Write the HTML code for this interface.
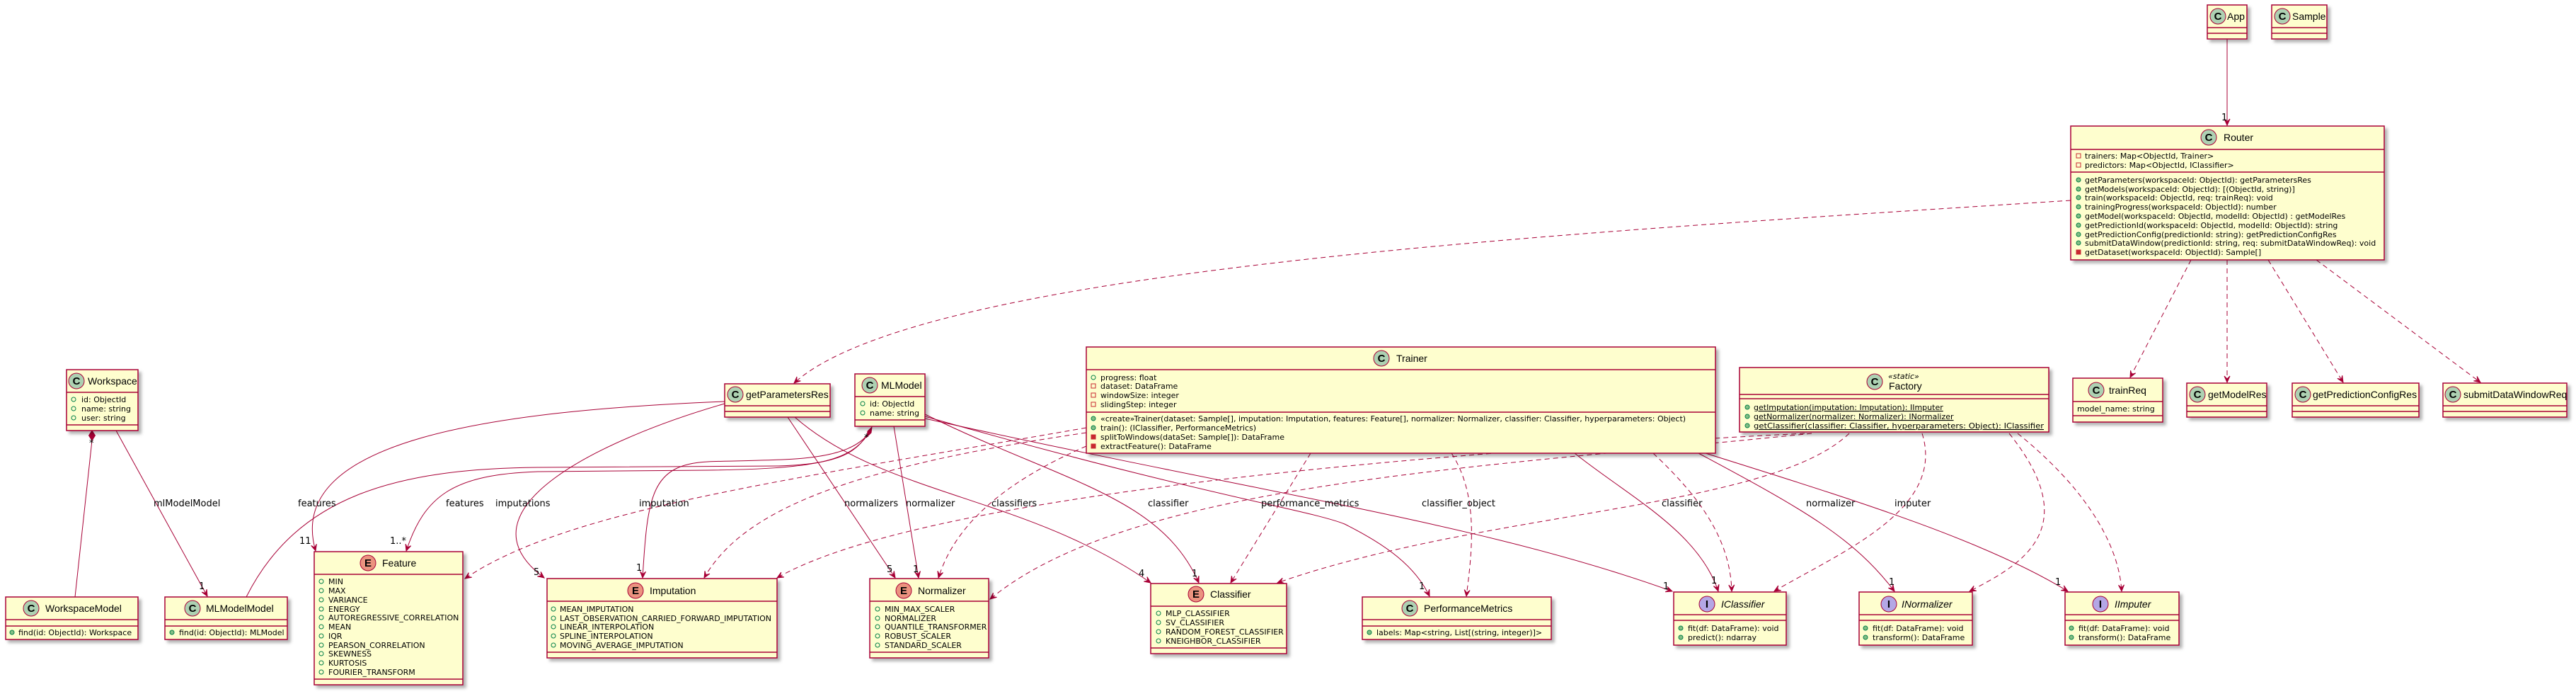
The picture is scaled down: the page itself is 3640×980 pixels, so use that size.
<!DOCTYPE html>
<html><head><meta charset="utf-8"><style>
html,body{margin:0;padding:0;background:#fff;}
svg{display:block;}
text{font-family:"Liberation Sans",sans-serif;fill:#000;}
.m{font-size:11px;font-family:"DejaVu Sans",sans-serif;}
.n{font-size:14px;}
.l{font-size:13px;font-family:"DejaVu Sans",sans-serif;}
.b{fill:#FEFECE;stroke:#A80036;stroke-width:1.5;}
.s{stroke:#A80036;stroke-width:1.5;}
.e{fill:none;stroke:#A80036;stroke-width:1;}
.d{fill:none;stroke:#A80036;stroke-width:1;stroke-dasharray:7,5;}
.cc{fill:#ADD1B2;stroke:#A80036;stroke-width:1;}
.ce{fill:#EB937F;stroke:#A80036;stroke-width:1;}
.ci{fill:#B4A7E5;stroke:#A80036;stroke-width:1;}
.g{font-size:15px;font-weight:bold;}
.pa{fill:none;stroke:#038048;stroke-width:1;}
.pm{fill:#84BE84;stroke:#038048;stroke-width:1;}
.ra{fill:none;stroke:#C82930;stroke-width:1;}
.rm{fill:#C82930;stroke:#C82930;stroke-width:1;}
</style></head><body>
<svg width="3640" height="980" viewBox="0 0 3640 980" xmlns="http://www.w3.org/2000/svg">
<defs>
<filter id="sh" x="-10%" y="-10%" width="130%" height="140%"><feDropShadow dx="4" dy="4" stdDeviation="2" flood-color="#000" flood-opacity="0.3"/></filter>
<marker id="a" markerUnits="userSpaceOnUse" markerWidth="20" markerHeight="20" refX="10" refY="10" orient="auto" viewBox="0 0 20 20"><path d="M10,10 L1,6 L5,10 L1,14 Z" fill="#A80036" stroke="#A80036"/></marker>
</defs>

<g>
<path class="e" d="M3147,55 L3147,177" marker-end="url(#a)"/>
<path class="d" d="M2926,283 C2200,330 1300,380 1122,541" marker-end="url(#a)"/>
<path class="d" d="M3096,367 L3010,533" marker-end="url(#a)"/>
<path class="d" d="M3147,367 L3147,540" marker-end="url(#a)"/>
<path class="d" d="M3205,367 L3311,540" marker-end="url(#a)"/>
<path class="d" d="M3273,367 L3505,540" marker-end="url(#a)"/>

<path class="e" d="M106,843 L130,622"/>
<polygon points="130,608 134.5,615 130,622 125.5,615" fill="#A80036" stroke="#A80036"/>
<path class="e" d="M164,608 L293,842" marker-end="url(#a)"/>

<path class="e" d="M348,843 C420,700 560,662 760,660 L1100,658 C1180,656 1210,640 1224,615"/>
<polygon points="1232,603 1231,611 1225,617 1226,609" fill="#A80036" stroke="#A80036"/>
<path class="e" d="M1226,614 C1200,652 1150,662 1000,664 L760,666 C640,670 600,700 574,778" marker-end="url(#a)"/>
<path class="e" d="M1226,614 C1190,655 1100,648 1000,652 C920,656 915,700 908,816" marker-end="url(#a)"/>

<path class="e" d="M1024,567 C700,580 400,620 446,778" marker-end="url(#a)"/>
<path class="e" d="M1024,570 C850,620 640,720 769,816" marker-end="url(#a)"/>
<path class="e" d="M1113,589 L1265,816" marker-end="url(#a)"/>
<path class="e" d="M1123,589 C1250,700 1450,700 1626,823" marker-end="url(#a)"/>
<path class="e" d="M1263,602 L1298,816" marker-end="url(#a)"/>
<path class="e" d="M1307,585 C1500,680 1640,700 1694,823" marker-end="url(#a)"/>
<path class="e" d="M1307,588 C1700,700 1850,720 1900,740 C1960,770 2000,800 2020,842" marker-end="url(#a)"/>
<path class="e" d="M1307,591 C1800,700 2100,740 2363,835" marker-end="url(#a)"/>
<path class="e" d="M2225,640 C2300,700 2400,750 2428,835" marker-end="url(#a)"/>
<path class="e" d="M2400,640 C2550,720 2620,760 2677,835" marker-end="url(#a)"/>
<path class="e" d="M2410,640 C2600,700 2800,760 2922,835" marker-end="url(#a)"/>

<path class="d" d="M1535,604 C1100,680 800,720 657,817" marker-end="url(#a)"/>
<path class="d" d="M1535,611 C1200,660 1050,720 995,816" marker-end="url(#a)"/>
<path class="d" d="M1535,630 C1420,680 1350,740 1326,816" marker-end="url(#a)"/>
<path class="d" d="M1852,640 L1739,823" marker-end="url(#a)"/>
<path class="d" d="M2051,640 C2090,700 2080,780 2072,842" marker-end="url(#a)"/>
<path class="d" d="M2336,640 C2400,700 2445,760 2447,835" marker-end="url(#a)"/>

<path class="d" d="M2550,612 C2000,640 1300,700 1098,816" marker-end="url(#a)"/>
<path class="d" d="M2560,612 C2100,660 1600,680 1399,846" marker-end="url(#a)"/>
<path class="d" d="M2613,612 C2500,720 2100,720 1805,823" marker-end="url(#a)"/>
<path class="d" d="M2716,612 C2750,720 2600,780 2507,835" marker-end="url(#a)"/>
<path class="d" d="M2839,612 C2950,750 2850,800 2783,835" marker-end="url(#a)"/>
<path class="d" d="M2851,612 C2960,700 2995,780 2998,835" marker-end="url(#a)"/>
</g>

<g>
<text x="3139" y="170" class="l">1</text>
<text x="126" y="630" class="l">*</text>
<text x="1221" y="622" class="l">*</text>
<text x="217" y="715" class="l">mlModelModel</text>
<text x="281" y="832" class="l">1</text>
<text x="421" y="715" class="l">features</text>
<text x="423" y="768" class="l">11</text>
<text x="630" y="715" class="l">features</text>
<text x="551" y="768" class="l">1..*</text>
<text x="700" y="715" class="l">imputations</text>
<text x="754" y="812" class="l">5</text>
<text x="903" y="715" class="l">imputation</text>
<text x="899" y="806" class="l">1</text>
<text x="1193" y="715" class="l">normalizers</text>
<text x="1253" y="808" class="l">5</text>
<text x="1280" y="715" class="l">normalizer</text>
<text x="1290" y="808" class="l">1</text>
<text x="1401" y="715" class="l">classifiers</text>
<text x="1609" y="814" class="l">4</text>
<text x="1622" y="715" class="l">classifier</text>
<text x="1684" y="814" class="l">1</text>
<text x="1782" y="715" class="l">performance_metrics</text>
<text x="2005" y="832" class="l">1</text>
<text x="2009" y="715" class="l">classifier_object</text>
<text x="2348" y="715" class="l">classifier</text>
<text x="2350" y="832" class="l">1</text>
<text x="2418" y="824" class="l">1</text>
<text x="2552" y="715" class="l">normalizer</text>
<text x="2669" y="826" class="l">1</text>
<text x="2677" y="715" class="l">imputer</text>
<text x="2904" y="826" class="l">1</text>
</g>

<g filter="url(#sh)">
<rect class="b" x="3119" y="7" width="56" height="48"/>
<rect class="b" x="3210" y="7" width="78" height="48"/>
<rect class="b" x="2926" y="178" width="443" height="189"/>
<rect class="b" x="2929" y="534" width="127" height="62"/>
<rect class="b" x="3090" y="541" width="113" height="48"/>
<rect class="b" x="3239" y="541" width="179" height="48"/>
<rect class="b" x="3452" y="541" width="175" height="48"/>
<rect class="b" x="2458" y="519" width="437" height="91"/>
<rect class="b" x="1535" y="490" width="889" height="150"/>
<rect class="b" x="1208" y="528" width="99" height="74"/>
<rect class="b" x="1024" y="542" width="149" height="47"/>
<rect class="b" x="94" y="522" width="101" height="86"/>
<rect class="b" x="8" y="843" width="187" height="60"/>
<rect class="b" x="233" y="843" width="173" height="60"/>
<rect class="b" x="444" y="779" width="210" height="188"/>
<rect class="b" x="773" y="817" width="325" height="112"/>
<rect class="b" x="1229" y="817" width="168" height="112"/>
<rect class="b" x="1626" y="824" width="192" height="99"/>
<rect class="b" x="1925" y="843" width="267" height="60"/>
<rect class="b" x="2365" y="836" width="159" height="75"/>
<rect class="b" x="2627" y="836" width="160" height="75"/>
<rect class="b" x="2918" y="836" width="161" height="75"/>
</g>

<g class="s">
<line x1="3119" y1="39" x2="3175" y2="39"/><line x1="3119" y1="47" x2="3175" y2="47"/>
<line x1="3210" y1="39" x2="3288" y2="39"/><line x1="3210" y1="47" x2="3288" y2="47"/>
<line x1="2926" y1="211" x2="3369" y2="211"/><line x1="2926" y1="243" x2="3369" y2="243"/>
<line x1="2929" y1="567" x2="3056" y2="567"/><line x1="2929" y1="587" x2="3056" y2="587"/>
<line x1="3090" y1="573" x2="3203" y2="573"/><line x1="3090" y1="581" x2="3203" y2="581"/>
<line x1="3239" y1="573" x2="3418" y2="573"/><line x1="3239" y1="581" x2="3418" y2="581"/>
<line x1="3452" y1="573" x2="3627" y2="573"/><line x1="3452" y1="581" x2="3627" y2="581"/>
<line x1="2458" y1="557" x2="2895" y2="557"/><line x1="2458" y1="563" x2="2895" y2="563"/>
<line x1="1535" y1="522" x2="2424" y2="522"/><line x1="1535" y1="582" x2="2424" y2="582"/>
<line x1="1208" y1="560" x2="1307" y2="560"/><line x1="1208" y1="593" x2="1307" y2="593"/>
<line x1="1024" y1="573" x2="1173" y2="573"/><line x1="1024" y1="581" x2="1173" y2="581"/>
<line x1="94" y1="554" x2="195" y2="554"/><line x1="94" y1="600" x2="195" y2="600"/>
<line x1="8" y1="875" x2="195" y2="875"/><line x1="8" y1="884" x2="195" y2="884"/>
<line x1="233" y1="875" x2="406" y2="875"/><line x1="233" y1="884" x2="406" y2="884"/>
<line x1="444" y1="811" x2="654" y2="811"/><line x1="444" y1="959" x2="654" y2="959"/>
<line x1="773" y1="849" x2="1098" y2="849"/><line x1="773" y1="921" x2="1098" y2="921"/>
<line x1="1229" y1="849" x2="1397" y2="849"/><line x1="1229" y1="921" x2="1397" y2="921"/>
<line x1="1626" y1="856" x2="1818" y2="856"/><line x1="1626" y1="915" x2="1818" y2="915"/>
<line x1="1925" y1="875" x2="2192" y2="875"/><line x1="1925" y1="884" x2="2192" y2="884"/>
<line x1="2365" y1="868" x2="2524" y2="868"/><line x1="2365" y1="876" x2="2524" y2="876"/>
<line x1="2627" y1="868" x2="2787" y2="868"/><line x1="2627" y1="876" x2="2787" y2="876"/>
<line x1="2918" y1="868" x2="3079" y2="868"/><line x1="2918" y1="876" x2="3079" y2="876"/>
</g>

<g>
<circle class="cc" cx="3134" cy="23" r="11"/><text class="g" x="3134" y="28" text-anchor="middle">C</text>
<circle class="cc" cx="3225" cy="23" r="11"/><text class="g" x="3225" y="28" text-anchor="middle">C</text>
<circle class="cc" cx="3121" cy="194" r="11"/><text class="g" x="3121" y="199" text-anchor="middle">C</text>
<circle class="cc" cx="2962" cy="551" r="11"/><text class="g" x="2962" y="556" text-anchor="middle">C</text>
<circle class="cc" cx="3105" cy="557" r="11"/><text class="g" x="3105" y="562" text-anchor="middle">C</text>
<circle class="cc" cx="3254" cy="557" r="11"/><text class="g" x="3254" y="562" text-anchor="middle">C</text>
<circle class="cc" cx="3466" cy="557" r="11"/><text class="g" x="3466" y="562" text-anchor="middle">C</text>
<circle class="cc" cx="2649" cy="539" r="11"/><text class="g" x="2649" y="544" text-anchor="middle">C</text>
<circle class="cc" cx="1952" cy="506" r="11"/><text class="g" x="1952" y="511" text-anchor="middle">C</text>
<circle class="cc" cx="1229" cy="544" r="11"/><text class="g" x="1229" y="549" text-anchor="middle">C</text>
<circle class="cc" cx="1039" cy="557" r="11"/><text class="g" x="1039" y="562" text-anchor="middle">C</text>
<circle class="cc" cx="108" cy="538" r="11"/><text class="g" x="108" y="543" text-anchor="middle">C</text>
<circle class="cc" cx="44" cy="859" r="11"/><text class="g" x="44" y="864" text-anchor="middle">C</text>
<circle class="cc" cx="272" cy="859" r="11"/><text class="g" x="272" y="864" text-anchor="middle">C</text>
<circle class="ce" cx="520" cy="795" r="11"/><text class="g" x="520" y="800" text-anchor="middle">E</text>
<circle class="ce" cx="898" cy="834" r="11"/><text class="g" x="898" y="839" text-anchor="middle">E</text>
<circle class="ce" cx="1277" cy="834" r="11"/><text class="g" x="1277" y="839" text-anchor="middle">E</text>
<circle class="ce" cx="1690" cy="839" r="11"/><text class="g" x="1690" y="844" text-anchor="middle">E</text>
<circle class="cc" cx="1992" cy="859" r="11"/><text class="g" x="1992" y="864" text-anchor="middle">C</text>
<circle class="ci" cx="2412" cy="853" r="11"/><text class="g" x="2412" y="858" text-anchor="middle">I</text>
<circle class="ci" cx="2669" cy="853" r="11"/><text class="g" x="2669" y="858" text-anchor="middle">I</text>
<circle class="ci" cx="2968" cy="853" r="11"/><text class="g" x="2968" y="858" text-anchor="middle">I</text>
</g>

<g>
<text class="n" x="3147" y="28">App</text>
<text class="n" x="3239" y="28">Sample</text>
<text class="n" x="3142" y="199">Router</text>
<text class="n" x="2980" y="556">trainReq</text>
<text class="n" x="3120" y="562">getModelRes</text>
<text class="n" x="3268" y="562">getPredictionConfigRes</text>
<text class="n" x="3481" y="562">submitDataWindowReq</text>
<text class="m" x="2668" y="535" font-style="italic">«static»</text>
<text class="n" x="2669" y="550">Factory</text>
<text class="n" x="1973" y="511">Trainer</text>
<text class="n" x="1245" y="549">MLModel</text>
<text class="n" x="1054" y="562">getParametersRes</text>
<text class="n" x="124" y="543">Workspace</text>
<text class="n" x="64" y="864">WorkspaceModel</text>
<text class="n" x="291" y="864">MLModelModel</text>
<text class="n" x="540" y="800">Feature</text>
<text class="n" x="918" y="839">Imputation</text>
<text class="n" x="1297" y="839">Normalizer</text>
<text class="n" x="1710" y="844">Classifier</text>
<text class="n" x="2012" y="864">PerformanceMetrics</text>
<text class="n" x="2432" y="858" font-style="italic">IClassifier</text>
<text class="n" x="2687" y="858" font-style="italic">INormalizer</text>
<text class="n" x="2988" y="858" font-style="italic">IImputer</text>
</g>

<g>
<rect class="ra" x="2934" y="217" width="6" height="6"/><text class="m" x="2946" y="224">trainers: Map&lt;ObjectId, Trainer&gt;</text>
<rect class="ra" x="2934" y="230" width="6" height="6"/><text class="m" x="2946" y="237">predictors: Map&lt;ObjectId, IClassifier&gt;</text>
<circle class="pm" cx="2937" cy="254" r="3"/><text class="m" x="2946" y="258">getParameters(workspaceId: ObjectId): getParametersRes</text>
<circle class="pm" cx="2937" cy="267" r="3"/><text class="m" x="2946" y="271">getModels(workspaceId: ObjectId): [(ObjectId, string)]</text>
<circle class="pm" cx="2937" cy="279" r="3"/><text class="m" x="2946" y="283">train(workspaceId: ObjectId, req: trainReq): void</text>
<circle class="pm" cx="2937" cy="292" r="3"/><text class="m" x="2946" y="296">trainingProgress(workspaceId: ObjectId): number</text>
<circle class="pm" cx="2937" cy="305" r="3"/><text class="m" x="2946" y="309">getModel(workspaceId: ObjectId, modelId: ObjectId) : getModelRes</text>
<circle class="pm" cx="2937" cy="318" r="3"/><text class="m" x="2946" y="322">getPredictionId(workspaceId: ObjectId, modelId: ObjectId): string</text>
<circle class="pm" cx="2937" cy="331" r="3"/><text class="m" x="2946" y="335">getPredictionConfig(predictionId: string): getPredictionConfigRes</text>
<circle class="pm" cx="2937" cy="343" r="3"/><text class="m" x="2946" y="347">submitDataWindow(predictionId: string, req: submitDataWindowReq): void</text>
<rect class="rm" x="2934" y="353" width="6" height="6"/><text class="m" x="2946" y="360">getDataset(workspaceId: ObjectId): Sample[]</text>

<text class="m" x="2935" y="581">model_name: string</text>

<circle class="pm" cx="2469" cy="575" r="3"/><text class="m" x="2478" y="579" text-decoration="underline">getImputation(imputation: Imputation): IImputer</text>
<circle class="pm" cx="2469" cy="588" r="3"/><text class="m" x="2478" y="592" text-decoration="underline">getNormalizer(normalizer: Normalizer): INormalizer</text>
<circle class="pm" cx="2469" cy="601" r="3"/><text class="m" x="2478" y="605" text-decoration="underline" textLength="410" lengthAdjust="spacingAndGlyphs">getClassifier(classifier: Classifier, hyperparameters: Object): IClassifier</text>

<circle class="pa" cx="1545" cy="533" r="3"/><text class="m" x="1555" y="537">progress: float</text>
<rect class="ra" x="1542" y="542" width="6" height="6"/><text class="m" x="1555" y="549">dataset: DataFrame</text>
<rect class="ra" x="1542" y="555" width="6" height="6"/><text class="m" x="1555" y="562">windowSize: integer</text>
<rect class="ra" x="1542" y="568" width="6" height="6"/><text class="m" x="1555" y="575">slidingStep: integer</text>
<circle class="pm" cx="1545" cy="591" r="3"/><text class="m" x="1555" y="595">«create»Trainer(dataset: Sample[], imputation: Imputation, features: Feature[], normalizer: Normalizer, classifier: Classifier, hyperparameters: Object)</text>
<circle class="pm" cx="1545" cy="604" r="3"/><text class="m" x="1555" y="608">train(): (IClassifier, PerformanceMetrics)</text>
<rect class="rm" x="1542" y="614" width="6" height="6"/><text class="m" x="1555" y="621">splitToWindows(dataSet: Sample[]): DataFrame</text>
<rect class="rm" x="1542" y="627" width="6" height="6"/><text class="m" x="1555" y="634">extractFeature(): DataFrame</text>

<circle class="pa" cx="1219" cy="570" r="3"/><text class="m" x="1229" y="574">id: ObjectId</text>
<circle class="pa" cx="1219" cy="583" r="3"/><text class="m" x="1229" y="587">name: string</text>

<circle class="pa" cx="104" cy="564" r="3"/><text class="m" x="115" y="568">id: ObjectId</text>
<circle class="pa" cx="104" cy="577" r="3"/><text class="m" x="115" y="581">name: string</text>
<circle class="pa" cx="104" cy="590" r="3"/><text class="m" x="115" y="594">user: string</text>

<circle class="pm" cx="17" cy="893" r="3"/><text class="m" x="26" y="897">find(id: ObjectId): Workspace</text>
<circle class="pm" cx="243" cy="893" r="3"/><text class="m" x="253" y="897">find(id: ObjectId): MLModel</text>

<circle class="pa" cx="454" cy="821" r="3"/><text class="m" x="464" y="825">MIN</text>
<circle class="pa" cx="454" cy="834" r="3"/><text class="m" x="464" y="838">MAX</text>
<circle class="pa" cx="454" cy="847" r="3"/><text class="m" x="464" y="851">VARIANCE</text>
<circle class="pa" cx="454" cy="860" r="3"/><text class="m" x="464" y="864">ENERGY</text>
<circle class="pa" cx="454" cy="872" r="3"/><text class="m" x="464" y="876">AUTOREGRESSIVE_CORRELATION</text>
<circle class="pa" cx="454" cy="885" r="3"/><text class="m" x="464" y="889">MEAN</text>
<circle class="pa" cx="454" cy="898" r="3"/><text class="m" x="464" y="902">IQR</text>
<circle class="pa" cx="454" cy="911" r="3"/><text class="m" x="464" y="915">PEARSON_CORRELATION</text>
<circle class="pa" cx="454" cy="923" r="3"/><text class="m" x="464" y="927">SKEWNESS</text>
<circle class="pa" cx="454" cy="936" r="3"/><text class="m" x="464" y="940">KURTOSIS</text>
<circle class="pa" cx="454" cy="949" r="3"/><text class="m" x="464" y="953">FOURIER_TRANSFORM</text>

<circle class="pa" cx="782" cy="860" r="3"/><text class="m" x="791" y="864">MEAN_IMPUTATION</text>
<circle class="pa" cx="782" cy="873" r="3"/><text class="m" x="791" y="877">LAST_OBSERVATION_CARRIED_FORWARD_IMPUTATION</text>
<circle class="pa" cx="782" cy="885" r="3"/><text class="m" x="791" y="889">LINEAR_INTERPOLATION</text>
<circle class="pa" cx="782" cy="898" r="3"/><text class="m" x="791" y="902">SPLINE_INTERPOLATION</text>
<circle class="pa" cx="782" cy="911" r="3"/><text class="m" x="791" y="915">MOVING_AVERAGE_IMPUTATION</text>

<circle class="pa" cx="1240" cy="860" r="3"/><text class="m" x="1250" y="864">MIN_MAX_SCALER</text>
<circle class="pa" cx="1240" cy="873" r="3"/><text class="m" x="1250" y="877">NORMALIZER</text>
<circle class="pa" cx="1240" cy="885" r="3"/><text class="m" x="1250" y="889">QUANTILE_TRANSFORMER</text>
<circle class="pa" cx="1240" cy="898" r="3"/><text class="m" x="1250" y="902">ROBUST_SCALER</text>
<circle class="pa" cx="1240" cy="911" r="3"/><text class="m" x="1250" y="915">STANDARD_SCALER</text>

<circle class="pa" cx="1637" cy="866" r="3"/><text class="m" x="1647" y="870">MLP_CLASSIFIER</text>
<circle class="pa" cx="1637" cy="879" r="3"/><text class="m" x="1647" y="883">SV_CLASSIFIER</text>
<circle class="pa" cx="1637" cy="892" r="3"/><text class="m" x="1647" y="896">RANDOM_FOREST_CLASSIFIER</text>
<circle class="pa" cx="1637" cy="905" r="3"/><text class="m" x="1647" y="909">KNEIGHBOR_CLASSIFIER</text>

<circle class="pm" cx="1935" cy="893" r="3"/><text class="m" x="1945" y="897">labels: Map&lt;string, List[(string, integer)]&gt;</text>

<circle class="pm" cx="2375" cy="887" r="3"/><text class="m" x="2385" y="891">fit(df: DataFrame): void</text>
<circle class="pm" cx="2375" cy="900" r="3"/><text class="m" x="2385" y="904">predict(): ndarray</text>
<circle class="pm" cx="2636" cy="887" r="3"/><text class="m" x="2646" y="891">fit(df: DataFrame): void</text>
<circle class="pm" cx="2636" cy="900" r="3"/><text class="m" x="2646" y="904">transform(): DataFrame</text>
<circle class="pm" cx="2927" cy="887" r="3"/><text class="m" x="2937" y="891">fit(df: DataFrame): void</text>
<circle class="pm" cx="2927" cy="900" r="3"/><text class="m" x="2937" y="904">transform(): DataFrame</text>
</g>
</svg>
</body></html>
